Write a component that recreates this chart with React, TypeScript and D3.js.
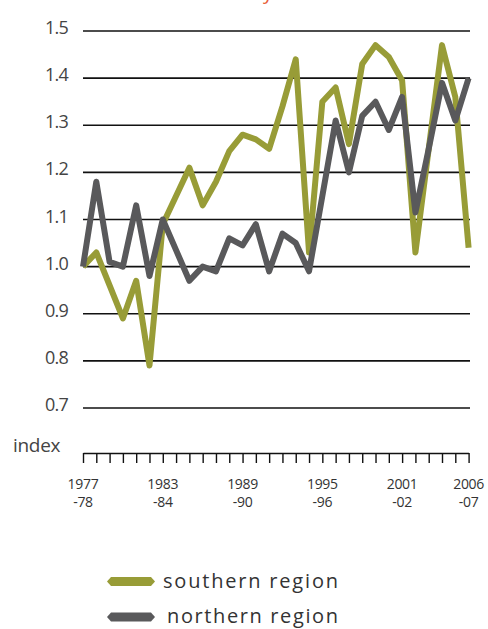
import * as d3 from "d3";
import { useEffect, useRef } from "react";

// financial years 1977-78 .. 2006-07, indexed to 1977-78 = 1.0
const years = d3.range(1977, 2007);
const southern = [
    1.0, 1.03, 0.96, 0.89, 0.97, 0.79, 1.09, 1.15, 1.21, 1.13,
    1.18, 1.245, 1.28, 1.27, 1.25, 1.34, 1.44, 1.03, 1.35, 1.38,
    1.26, 1.43, 1.47, 1.445, 1.395, 1.03, 1.25, 1.47, 1.36, 1.04,
];
const northern = [
    1.0, 1.18, 1.01, 1.0, 1.13, 0.98, 1.1, 1.035, 0.97, 1.0,
    0.99, 1.06, 1.045, 1.09, 0.99, 1.07, 1.05, 0.99, 1.15, 1.31,
    1.2, 1.32, 1.35, 1.29, 1.36, 1.115, 1.25, 1.39, 1.31, 1.4,
];
const yTicks = [0.7, 0.8, 0.9, 1.0, 1.1, 1.2, 1.3, 1.4, 1.5];
const xLabels = [
    { year: 1977, top: "1977", bottom: "-78" },
    { year: 1983, top: "1983", bottom: "-84" },
    { year: 1989, top: "1989", bottom: "-90" },
    { year: 1995, top: "1995", bottom: "-96" },
    { year: 2001, top: "2001", bottom: "-02" },
    { year: 2006, top: "2006", bottom: "-07" },
];
const series = [
    { name: "southern region", values: southern, color: "#989c37" },
    { name: "northern region", values: northern, color: "#59595b" },
];

export default function App() {
    const ref = useRef<SVGSVGElement | null>(null);

    useEffect(() => {
        if (!ref.current) return;
        const font = "'Open Sans', sans-serif";

        const svg = d3.select(ref.current);
        svg.selectAll("*").remove();

        const x = d3.scaleLinear().domain([1977, 2006]).range([83, 468.6]);
        const y = d3.scaleLinear().domain([0.7, 1.5]).range([408, 31]);
        const axisY = 453;

        // cut-off title descender at the top
        svg.append("text")
            .attr("x", 263)
            .attr("y", -1)
            .attr("font-family", font)
            .attr("font-size", 20)
            .attr("fill", "#e8603c")
            .text("y");

        // gridlines
        svg.append("g")
            .selectAll("line")
            .data(yTicks)
            .join("line")
            .attr("x1", 83)
            .attr("x2", 470)
            .attr("y1", (d) => y(d))
            .attr("y2", (d) => y(d))
            .attr("stroke", "#111")
            .attr("stroke-width", 1.6);

        // y labels
        svg.append("g")
            .selectAll("text")
            .data(yTicks)
            .join("text")
            .attr("x", 68)
            .attr("y", (d) => y(d) + 3)
            .attr("text-anchor", "end")
            .attr("font-family", font)
            .attr("font-size", 18)
            .attr("letter-spacing", -0.8)
            .attr("fill", "#444")
            .text((d) => d.toFixed(1));

        svg.append("text")
            .attr("x", 13)
            .attr("y", 452)
            .attr("font-family", font)
            .attr("font-size", 19)
            .attr("letter-spacing", -0.3)
            .attr("fill", "#444")
            .text("index");

        // x axis with a tick per year
        const xAxis = svg.append("g")
            .attr("transform", `translate(0,${axisY})`)
            .call(
                d3.axisBottom(x)
                    .tickValues(years)
                    .tickSize(10)
                    .tickSizeOuter(0)
                    .tickFormat(() => "")
            );
        xAxis.select(".domain").attr("stroke", "#111").attr("stroke-width", 1.6);
        xAxis.selectAll(".tick line").attr("stroke", "#111").attr("stroke-width", 1.4);

        const lbl = svg.append("g")
            .selectAll("g")
            .data(xLabels)
            .join("g")
            .attr("transform", (d) => `translate(${x(d.year)},0)`)
            .attr("font-family", font)
            .attr("font-size", 14)
            .attr("letter-spacing", -0.3)
            .attr("fill", "#333")
            .attr("text-anchor", "middle");
        lbl.append("text").attr("y", 489).text((d) => d.top);
        lbl.append("text").attr("y", 507).text((d) => d.bottom);

        // lines
        const line = d3.line<number>()
            .x((_, i) => x(years[i]))
            .y((d) => y(d));

        svg.append("g")
            .selectAll("path")
            .data(series)
            .join("path")
            .attr("d", (d) => line(d.values))
            .attr("fill", "none")
            .attr("stroke", (d) => d.color)
            .attr("stroke-width", 6)
            .attr("stroke-linejoin", "round");

        // legend
        const leg = svg.append("g")
            .selectAll("g")
            .data(series)
            .join("g")
            .attr("transform", (_, i) => `translate(0,${581.5 + i * 35.5})`);
        leg.append("path")
            .attr("d", "M107,0L111,-4.5H151L155,0L151,4.5H111Z")
            .attr("fill", (d) => d.color);
        leg.append("text")
            .attr("x", (_, i) => (i === 0 ? 163 : 167))
            .attr("y", 6)
            .attr("font-family", font)
            .attr("font-size", 20)
            .attr("textLength", (_, i) => (i === 0 ? 175 : 171))
            .attr("lengthAdjust", "spacing")
            .attr("fill", "#333")
            .text((d) => d.name);
    }, []);

    return (
        <div style={{ position: "absolute", left: 0, top: 0, width: 488, height: 629, background: "white" }}>
            <svg ref={ref} width={488} height={629} style={{ display: "block", overflow: "hidden" }}></svg>
        </div>
    );
}
